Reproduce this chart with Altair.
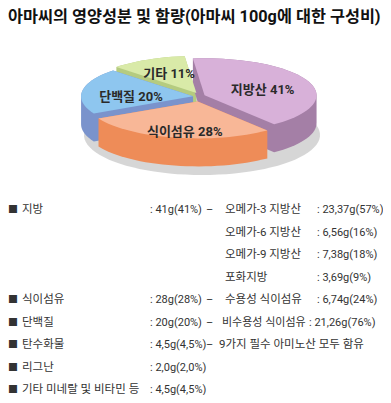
import altair as alt
import pandas as pd
import numpy as np

# ---------------- data ----------------
title_text = "아마씨의 영양성분 및 함량(아마씨 100g에 대한 구성비)"
slice_names = ["지방산", "식이섬유", "단백질", "기타"]
slice_values = [41, 28, 20, 11]

row_labels = ["지방", "", "", "", "식이섬유", "단백질", "탄수화물", "리그난", "기타 미네랄 및 비타민 등"]
row_amounts = [": 41g(41%)", "", "", "", ": 28g(28%)", ": 20g(20%)", ": 4,5g(4,5%)", ": 2,0g(2,0%)", ": 4,5g(4,5%)"]
row_links = ["–", "", "", "", "–", "–", "–", "", ""]
row_details = ["오메가-3 지방산", "오메가-6 지방산", "오메가-9 지방산", "포화지방", "수용성 식이섬유",
               "비수용성 식이섬유", "9가지 필수 아미노산 모두 함유", "", ""]
row_detail_amounts = [": 23,37g(57%)", ": 6,56g(16%)", ": 7,38g(18%)", ": 3,69g(9%)", ": 6,74g(24%)",
                      ": 21,26g(76%)", "", "", ""]

# ---------------- styles / layout ----------------
top_colors = ["#D8B1D9", "#F8B797", "#8EC6EF", "#D9EAA8"]
side_colors = ["#A47FA6", "#EE8C58", "#7A93CC", "#B5CB80"]
shadow_color = "#C4C4C4"
FONT = "Noto Sans CJK KR"
MIXED = "Roboto, Noto Sans CJK KR"
W, H = 375, 387
OFF = 8
CX, CY = 199, 97
RX, RY = 112, 37
DEPTH = 28
EXPLODE = 6
START_DEG = -6
ROW_Y0, ROW_DY = 210, 22.5
LABEL_SIZE = 11.5
TABLE_SIZE = 11


def hull(points):
    pts = sorted(set(points))
    def cross(o, a, b):
        return (a[0] - o[0]) * (b[1] - o[1]) - (a[1] - o[1]) * (b[0] - o[0])
    lower, upper = [], []
    for p in pts:
        while len(lower) >= 2 and cross(lower[-2], lower[-1], p) <= 0:
            lower.pop()
        lower.append(p)
    for p in reversed(pts):
        while len(upper) >= 2 and cross(upper[-2], upper[-1], p) <= 0:
            upper.pop()
        upper.append(p)
    return lower[:-1] + upper[:-1]


poly_rows = []
label_rows = []
pid = [0]


def add_poly(layer, key, pts):
    for i, (x, y) in enumerate(list(pts) + [pts[0]]):
        poly_rows.append(dict(layer=layer, key=key, pid=pid[0], i=i, x=x, y=y))
    pid[0] += 1


# shadow under the pie
ts = np.linspace(0, 2 * np.pi, 90, endpoint=False)
add_poly("shadow", "shadow", [(CX + 3 + (RX + 6) * np.sin(t), CY + DEPTH + 10 - (RY + 3) * np.cos(t)) for t in ts])

total = sum(slice_values)
start = np.radians(START_DEG)
tops, sides = [], []
for name, v in zip(slice_names, slice_values):
    span = v / total * 2 * np.pi
    mid = start + span / 2
    ex, ey = EXPLODE * np.sin(mid), -EXPLODE * 0.75 * np.cos(mid)
    n = max(8, int(np.degrees(span) / 3))
    arc = [(CX + ex + RX * np.sin(t), CY + ey - RY * np.cos(t)) for t in np.linspace(start, start + span, n)]
    top = [(CX + ex, CY + ey)] + arc
    shifted = [(x, y + DEPTH) for x, y in top]
    sides.append((-np.cos(mid), name, hull([(round(x, 3), round(y, 3)) for x, y in top + shifted])))
    tops.append((name, top))
    label_rows.append(dict(text=f"{name} {v}%",
                           x=CX + ex + 0.56 * RX * np.sin(mid),
                           y=CY + ey - 0.72 * RY * np.cos(mid) + 5))
    start += span

for _, name, pts in sorted(sides, key=lambda s: s[0]):
    add_poly("side", name + "-side", pts)
for name, pts in tops:
    add_poly("top", name + "-top", pts)

polys = pd.DataFrame(poly_rows)
labels = pd.DataFrame(label_rows)

keys = ["shadow"] + [n + "-side" for n in slice_names] + [n + "-top" for n in slice_names]
cols = [shadow_color] + side_colors + top_colors

xs = alt.Scale(domain=[OFF, OFF + W], nice=False, zero=False)
ys = alt.Scale(domain=[OFF, OFF + H], nice=False, zero=False, reverse=True)


def poly_layer(layer, opacity=1.0):
    return alt.Chart(polys).transform_filter(alt.datum.layer == layer).mark_line(
        filled=True, opacity=opacity, strokeWidth=0
    ).encode(
        x=alt.X("x:Q", scale=xs, axis=None),
        y=alt.Y("y:Q", scale=ys, axis=None),
        detail="pid:N",
        order="i:Q",
        color=alt.Color("key:N", scale=alt.Scale(domain=keys, range=cols), legend=None),
    )


pie_labels = alt.Chart(labels).mark_text(
    font=MIXED, fontSize=13, fontWeight="bold", color="#2a2a2a", align="center", baseline="middle"
).encode(
    x=alt.X("x:Q", scale=xs, axis=None),
    y=alt.Y("y:Q", scale=ys, axis=None),
    text="text:N",
)

title = alt.Chart(pd.DataFrame({"t": [title_text]})).mark_text(
    font=MIXED, fontSize=16.3, fontWeight="bold", color="#111", align="left", baseline="middle"
).encode(x=alt.value(0), y=alt.value(16.5 - OFF), text="t:N")

table = pd.DataFrame({
    "row": list(range(len(row_labels))),
    "label": row_labels,
    "amount": row_amounts,
    "link": row_links,
    "detail": row_details,
    "damount": row_detail_amounts,
})
table["marker"] = ["■" if s else "" for s in row_labels]

base = alt.Chart(table).transform_calculate(yy=f"{ROW_Y0} + {ROW_DY} * datum.row")


def text_col(field, xpix, cond, size=TABLE_SIZE, font=MIXED):
    return base.transform_filter(cond).mark_text(
        font=font, fontSize=size, color="#333", align="left", baseline="middle"
    ).encode(
        x=alt.value(xpix - OFF),
        y=alt.Y("yy:Q", scale=ys, axis=None),
        text=f"{field}:N",
    )


layers = [
    poly_layer("shadow", 0.7),
    poly_layer("side"),
    poly_layer("top"),
    pie_labels,
    title,
    text_col("marker", 8, "datum.marker != ''", 10, FONT),
    text_col("label", 22, "datum.label != ''", LABEL_SIZE),
    text_col("amount", 150, "datum.amount != ''"),
    text_col("link", 206, "datum.link != '' && datum.row < 6"),
    text_col("link", 206, "datum.row == 6"),
    text_col("detail", 225, "datum.detail != '' && datum.row < 5", LABEL_SIZE),
    text_col("detail", 222, "datum.row == 5"),
    text_col("detail", 219, "datum.row == 6", LABEL_SIZE),
    text_col("damount", 317, "datum.damount != '' && datum.row < 5"),
    text_col("damount", 309, "datum.row == 5"),
]

chart = alt.layer(*layers).properties(
    width=W, height=H, padding=0, autosize=alt.AutoSizeParams(type="none")
).configure_view(stroke=None)

chart.save("out.html", embed_options={"renderer": "svg", "actions": False})
